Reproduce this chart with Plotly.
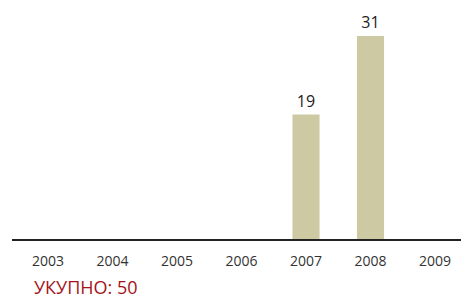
import plotly.graph_objects as go

years = ["2003", "2004", "2005", "2006", "2007", "2008", "2009"]
values = [0, 0, 0, 0, 19, 31, 0]
labels = ["", "", "", "", "19", "31", ""]
total_label = "УКУПНО: 50"

pos = list(range(len(years)))

fig = go.Figure()
fig.add_trace(go.Bar(
    x=pos, y=values, width=0.42,
    marker=dict(color="#CCC9A3", line=dict(width=0)),
    text=labels, textposition="outside", cliponaxis=False,
    textfont=dict(family="Open Sans", size=16, color="#222222"),
    hoverinfo="skip",
))
fig.update_layout(
    width=461, height=298,
    margin=dict(l=12, r=0, t=0, b=59),
    paper_bgcolor="white", plot_bgcolor="white",
    showlegend=False,
    font=dict(family="Open Sans"),
    xaxis=dict(
        range=[-0.558, 6.403], tickmode="array", tickvals=pos, ticktext=years,
        showgrid=False, zeroline=False, showline=True, linecolor="#222222", linewidth=1.5,
        ticks="outside", ticklen=8, tickcolor="rgba(0,0,0,0)",
        tickfont=dict(family="Open Sans", size=14, color="#333333"),
        automargin=False,
    ),
    yaxis=dict(range=[0, 36.5], visible=False, automargin=False),
    annotations=[dict(
        text=total_label, xref="paper", yref="paper", x=(32-12)/449, y=-(287-239)/239,
        xanchor="left", yanchor="middle", showarrow=False,
        font=dict(family="Open Sans", size=18, color="#A5121A"),
    )],
)
fig.write_html("out.html", config={"displayModeBar": False},
               post_script="document.body.style.margin='0';document.body.style.overflow='hidden';")
